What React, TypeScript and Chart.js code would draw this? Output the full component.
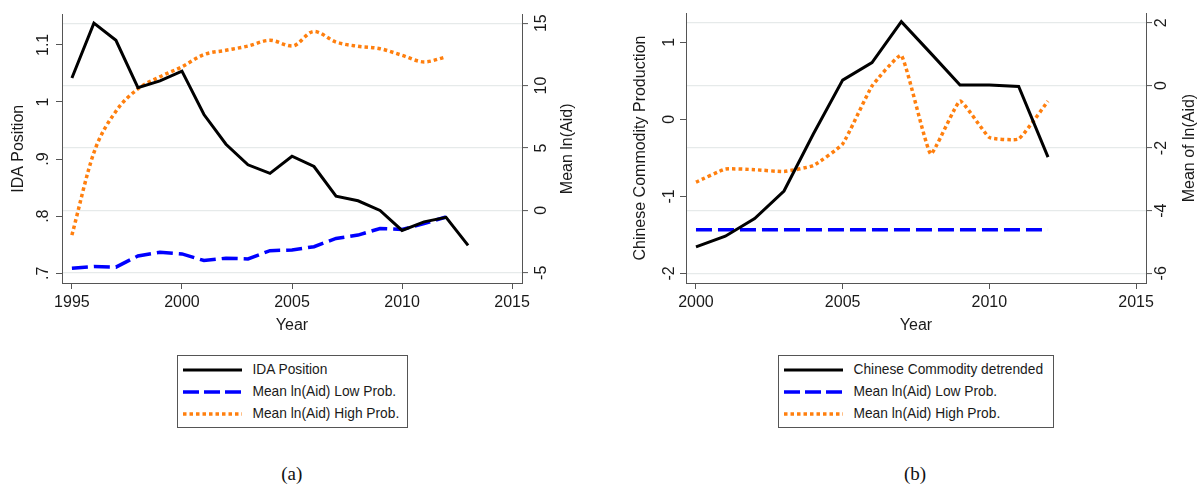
import React, { useEffect, useRef } from "react";
import { Chart, registerables } from "chart.js";

Chart.register(...registerables);

// ---------- Panel (a) data ----------
const yearsIda = [1995, 1996, 1997, 1998, 1999, 2000, 2001, 2002, 2003, 2004, 2005, 2006, 2007, 2008, 2009, 2010, 2011, 2012, 2013];
const idaPosition = [1.042, 1.138, 1.108, 1.025, 1.037, 1.054, 0.978, 0.926, 0.89, 0.875, 0.905, 0.887, 0.835, 0.827, 0.81, 0.775, 0.79, 0.798, 0.749];
const yearsAidA = [1995, 1996, 1997, 1998, 1999, 2000, 2001, 2002, 2003, 2004, 2005, 2006, 2007, 2008, 2009, 2010, 2011, 2012];
const lowProbA = [-4.63, -4.5, -4.55, -3.65, -3.36, -3.49, -4.02, -3.83, -3.89, -3.23, -3.17, -2.91, -2.25, -1.98, -1.45, -1.53, -1.06, -0.53];
const highProbA = [-1.98, 4.63, 7.94, 9.74, 10.71, 11.51, 12.49, 12.83, 13.17, 13.63, 13.17, 14.34, 13.49, 13.15, 12.96, 12.43, 11.9, 12.3];
const xTicksA = [1995, 2000, 2005, 2010, 2015];
const leftTicksA = [0.7, 0.8, 0.9, 1.0, 1.1];
const leftLabelsA = [".7", ".8", ".9", "1", "1.1"];
const rightTicksA = [-5, 0, 5, 10, 15];
const rightLabelsA = ["-5", "0", "5", "10", "15"];
const legendLabelsA = ["IDA Position", "Mean ln(Aid) Low Prob.", "Mean ln(Aid) High Prob."];

// ---------- Panel (b) data ----------
const yearsB = [2000, 2001, 2002, 2003, 2004, 2005, 2006, 2007, 2008, 2009, 2010, 2011, 2012];
const commodityDetrended = [-1.656, -1.517, -1.289, -0.931, -0.19, 0.51, 0.737, 1.268, 0.86, 0.445, 0.445, 0.427, -0.49];
const lowProbB = [-4.61, -4.61, -4.61, -4.61, -4.61, -4.61, -4.61, -4.61, -4.61, -4.61, -4.61, -4.61, -4.61];
const highProbB = [-3.09, -2.67, -2.69, -2.75, -2.56, -1.87, -0.02, 0.96, -2.19, -0.5, -1.66, -1.71, -0.5];
const xTicksB = [2000, 2005, 2010, 2015];
const leftTicksB = [-2, -1, 0, 1];
const leftLabelsB = ["-2", "-1", "0", "1"];
const rightTicksB = [-6, -4, -2, 0, 2];
const rightLabelsB = ["-6", "-4", "-2", "0", "2"];
const legendLabelsB = ["Chinese Commodity detrended", "Mean ln(Aid) Low Prob.", "Mean ln(Aid) High Prob."];

const FONT = '"Liberation Sans", Arial, sans-serif';
const AXIS_COLOR = "#555";
const TEXT_COLOR = "#1a1a1a";
const GRID_COLOR = "#e6eaea";
const BLACK = "#000000";
const BLUE = "#0000ff";
const ORANGE = "#ff7f0e";
const FONT_SIZE = 16;

const rightTitlePlugin = {
  id: "rightTitle",
  afterDraw(chart: any, _args: any, opts: any) {
    if (!opts || !opts.text) return;
    const { ctx, chartArea } = chart;
    ctx.save();
    ctx.font = `${opts.size}px ${FONT}`;
    ctx.fillStyle = opts.color;
    ctx.textAlign = "center";
    ctx.textBaseline = "middle";
    ctx.translate(opts.x, (chartArea.top + chartArea.bottom) / 2);
    ctx.rotate(-Math.PI / 2);
    ctx.fillText(opts.text, 0, 0);
    ctx.restore();
  },
};

type PanelSpec = {
  left: number;
  xMin: number;
  xMax: number;
  xTicks: number[];
  leftMin: number;
  leftMax: number;
  leftTicks: number[];
  leftLabels: string[];
  rightMin: number;
  rightMax: number;
  rightTicks: number[];
  rightLabels: string[];
  leftWidth: number;
  rightWidth: number;
  leftTitle: string;
  leftTitlePad: number;
  leftTickPad: number;
  rightTickPad: number;
  rightTitle: string;
  rightTitleX: number;
  datasets: any[];
};

function toPoints(xs: number[], ys: number[]) {
  return xs.map((x, i) => ({ x, y: ys[i] }));
}

function ChartPanel({ spec }: { spec: PanelSpec }) {
  const ref = useRef<HTMLCanvasElement>(null);
  useEffect(() => {
    const tickFont = { family: FONT, size: FONT_SIZE };
    const chart = new Chart(ref.current as HTMLCanvasElement, {
      type: "line",
      data: { datasets: spec.datasets },
      plugins: [rightTitlePlugin as any],
      options: {
        responsive: false,
        animation: false,
        devicePixelRatio: 1,
        layout: { padding: { top: 12, left: 0, right: 0, bottom: 0 } },
        plugins: {
          legend: { display: false },
          tooltip: { enabled: false },
          rightTitle: { text: spec.rightTitle, x: spec.rightTitleX, size: FONT_SIZE, color: TEXT_COLOR },
        } as any,
        elements: { point: { radius: 0 } },
        scales: {
          x: {
            type: "linear",
            min: spec.xMin,
            max: spec.xMax,
            afterBuildTicks: (s: any) => {
              s.ticks = spec.xTicks.map((v) => ({ value: v }));
            },
            afterFit: (s: any) => {
              s.height = 57;
            },
            ticks: {
              callback: (v: any) => String(v),
              font: tickFont,
              color: TEXT_COLOR,
              padding: 4,
              maxRotation: 0,
              autoSkip: false,
            },
            grid: { drawOnChartArea: false, drawTicks: true, tickLength: 6, tickColor: AXIS_COLOR },
            border: { display: true, color: AXIS_COLOR, width: 1 },
            title: { display: true, text: "Year", font: tickFont, color: TEXT_COLOR, padding: { top: 0, bottom: 4.5 } },
          },
          yL: {
            type: "linear",
            position: "left",
            min: spec.leftMin,
            max: spec.leftMax,
            afterBuildTicks: (s: any) => {
              s.ticks = spec.leftTicks.map((v) => ({ value: v }));
            },
            afterFit: (s: any) => {
              s.width = spec.leftWidth;
            },
            ticks: {
              callback: (_v: any, i: number) => spec.leftLabels[i],
              font: tickFont,
              color: TEXT_COLOR,
              minRotation: 90,
              maxRotation: 90,
              crossAlign: "center",
              padding: spec.leftTickPad,
              autoSkip: false,
            },
            grid: { drawOnChartArea: false, drawTicks: true, tickLength: 6, tickColor: AXIS_COLOR },
            border: { display: true, color: AXIS_COLOR, width: 1 },
            title: {
              display: true,
              text: spec.leftTitle,
              font: tickFont,
              color: TEXT_COLOR,
              padding: { top: spec.leftTitlePad, bottom: 0 },
            },
          },
          yR: {
            type: "linear",
            position: "right",
            min: spec.rightMin,
            max: spec.rightMax,
            afterBuildTicks: (s: any) => {
              s.ticks = spec.rightTicks.map((v) => ({ value: v }));
            },
            afterFit: (s: any) => {
              s.width = spec.rightWidth;
            },
            ticks: {
              callback: (_v: any, i: number) => spec.rightLabels[i],
              font: tickFont,
              color: TEXT_COLOR,
              minRotation: 90,
              maxRotation: 90,
              crossAlign: "center",
              padding: spec.rightTickPad,
              autoSkip: false,
            },
            grid: {
              drawOnChartArea: true,
              color: GRID_COLOR,
              lineWidth: 1.2,
              drawTicks: true,
              tickLength: 6,
              tickColor: AXIS_COLOR,
              tickWidth: 1,
            },
            border: { display: true, color: AXIS_COLOR, width: 1 },
          },
        },
      } as any,
    });
    return () => chart.destroy();
  }, []);
  return (
    <canvas
      ref={ref}
      width={600}
      height={340}
      style={{ position: "absolute", left: spec.left, top: 0, width: 600, height: 340 }}
    />
  );
}

function lineDataset(label: string, xs: number[], ys: number[], color: string, axis: string, kind: string) {
  const base: any = {
    label,
    data: toPoints(xs, ys),
    yAxisID: axis,
    xAxisID: "x",
    borderColor: color,
    backgroundColor: color,
    fill: false,
    pointRadius: 0,
  };
  if (kind === "solid") {
    base.borderWidth = 3;
    base.tension = 0;
  } else if (kind === "dash") {
    base.borderWidth = 3.5;
    base.borderDash = [16, 6];
    base.tension = 0;
  } else if (kind === "dotSmooth") {
    base.borderWidth = 3.5;
    base.borderDash = [3.5, 3];
    base.cubicInterpolationMode = "monotone";
  } else {
    base.borderWidth = 3.5;
    base.borderDash = [3.5, 3];
    base.tension = 0.12;
  }
  return base;
}

const specA: PanelSpec = {
  left: 0,
  xMin: 1994.55,
  xMax: 2015.45,
  xTicks: xTicksA,
  leftMin: 0.683,
  leftMax: 1.153,
  leftTicks: leftTicksA,
  leftLabels: leftLabelsA,
  rightMin: -5.82,
  rightMax: 15.69,
  rightTicks: rightTicksA,
  rightLabels: rightLabelsA,
  leftWidth: 62,
  rightWidth: 78,
  leftTitle: "IDA Position",
  leftTitlePad: 9,
  leftTickPad: 1.5,
  rightTickPad: 5,
  rightTitle: "Mean ln(Aid)",
  rightTitleX: 567.7,
  datasets: [
    lineDataset(legendLabelsA[0], yearsIda, idaPosition, BLACK, "yL", "solid"),
    lineDataset(legendLabelsA[1], yearsAidA, lowProbA, BLUE, "yR", "dash"),
    lineDataset(legendLabelsA[2], yearsAidA, highProbA, ORANGE, "yR", "dotSmooth"),
  ],
};

const specB: PanelSpec = {
  left: 600,
  xMin: 1999.66,
  xMax: 2015.34,
  xTicks: xTicksB,
  leftMin: -2.125,
  leftMax: 1.38,
  leftTicks: leftTicksB,
  leftLabels: leftLabelsB,
  rightMin: -6.31,
  rightMax: 2.31,
  rightTicks: rightTicksB,
  rightLabels: rightLabelsB,
  leftWidth: 86,
  rightWidth: 54,
  leftTitle: "Chinese Commodity Production",
  leftTitlePad: 31,
  leftTickPad: 3.5,
  rightTickPad: 2,
  rightTitle: "Mean of ln(Aid)",
  rightTitleX: 590,
  datasets: [
    lineDataset(legendLabelsB[0], yearsB, commodityDetrended, BLACK, "yL", "solid"),
    lineDataset(legendLabelsB[1], yearsB, lowProbB, BLUE, "yR", "dash"),
    lineDataset(legendLabelsB[2], yearsB, highProbB, ORANGE, "yR", "dot"),
  ],
};

const legendStyles = [
  { color: BLACK, width: 3, dash: undefined as string | undefined },
  { color: BLUE, width: 3.5, dash: "16 5" },
  { color: ORANGE, width: 3.5, dash: "3.5 3" },
];

function LegendBox({ left, width, labels }: { left: number; width: number; labels: string[] }) {
  const rowCenters = [13.5, 35.7, 57.5];
  return (
    <div
      style={{
        position: "absolute",
        left,
        top: 355,
        width,
        height: 73,
        border: `1px solid ${AXIS_COLOR}`,
        boxSizing: "border-box",
        background: "#fff",
      }}
    >
      {labels.map((lab, i) => (
        <React.Fragment key={i}>
          <svg
            width={60}
            height={8}
            style={{ position: "absolute", left: 5, top: rowCenters[i] - 4 }}
          >
            <line
              x1={0}
              y1={4}
              x2={59}
              y2={4}
              stroke={legendStyles[i].color}
              strokeWidth={legendStyles[i].width}
              strokeDasharray={legendStyles[i].dash}
            />
          </svg>
          <span
            style={{
              position: "absolute",
              left: 74.5,
              top: rowCenters[i] - 9,
              height: 18,
              lineHeight: "18px",
              fontSize: 13.75,
              fontFamily: FONT,
              color: TEXT_COLOR,
              whiteSpace: "nowrap",
            }}
          >
            {lab}
          </span>
        </React.Fragment>
      ))}
    </div>
  );
}

function Caption({ cx, text }: { cx: number; text: string }) {
  return (
    <div
      style={{
        position: "absolute",
        left: cx - 50,
        width: 100,
        top: 462,
        height: 24,
        lineHeight: "24px",
        textAlign: "center",
        fontFamily: '"Liberation Serif", "DejaVu Serif", serif',
        fontSize: 19,
        color: "#111",
      }}
    >
      {text}
    </div>
  );
}

export default function App() {
  return (
    <div
      style={{
        position: "absolute",
        left: 0,
        top: 0,
        width: 1200,
        height: 485,
        background: "#ffffff",
        overflow: "hidden",
      }}
    >
      <ChartPanel spec={specA} />
      <ChartPanel spec={specB} />
      <LegendBox left={177} width={231} labels={legendLabelsA} />
      <LegendBox left={778} width={276} labels={legendLabelsB} />
      <Caption cx={291.7} text="(a)" />
      <Caption cx={915} text="(b)" />
    </div>
  );
}
